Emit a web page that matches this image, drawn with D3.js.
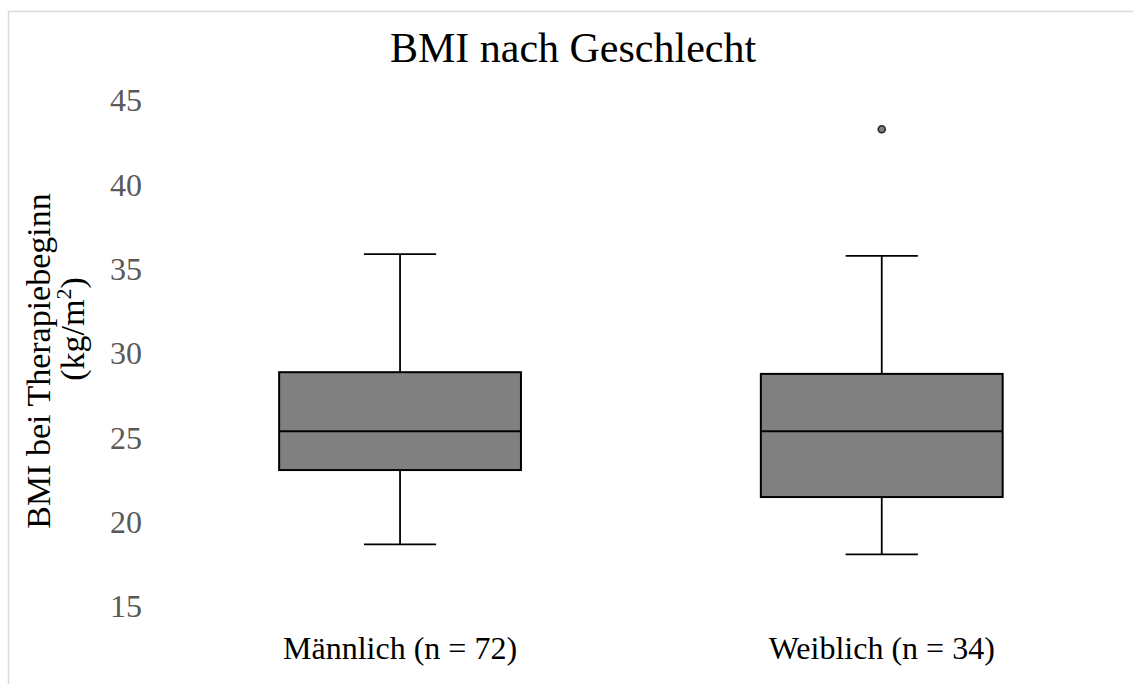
<!DOCTYPE html>
<html>
<head>
<meta charset="utf-8">
<script src="https://cdn.jsdelivr.net/npm/d3@7"></script>
<style>
  body { margin: 0; background: #fff; overflow: hidden; }
  svg { display: block; font-family: "Liberation Serif", "Times New Roman", serif; }
</style>
</head>
<body>
<svg id="chart" width="1133" height="684"></svg>
<script>
'use strict';

// values
const categories = ['Männlich (n = 72)', 'Weiblich (n = 34)'];
const whiskerLow = [18.7, 18.1];
const q1 = [23.1, 21.5];
const median = [25.4, 25.4];
const q3 = [28.9, 28.8];
const whiskerHigh = [35.9, 35.8];
const outliers = [[], [43.3]];
const yTicks = [15, 20, 25, 30, 35, 40, 45];

const boxes = categories.map((c, i) => ({
  key: c,
  lo: whiskerLow[i], q1: q1[i], med: median[i], q3: q3[i], hi: whiskerHigh[i],
  out: outliers[i]
}));

const svg = d3.select('#chart');

// chart frame (only left/top edges fall inside the picture)
svg.append('rect')
  .attr('x', 8.5).attr('y', 11.5)
  .attr('width', 1140).attr('height', 700)
  .attr('fill', 'none')
  .attr('stroke', '#d9d9d9')
  .attr('stroke-width', 1.5);

const y = d3.scaleLinear()
  .domain([15, 45])
  .range([606.7, 100.6]);

const x = d3.scalePoint()
  .domain(categories)
  .range([159.2, 1122.6])
  .padding(0.5);

const step = x.step();
const boxW = step * 0.502;
const capW = step * 0.15;

// y axis: labels only
const yAxis = svg.append('g')
  .attr('transform', 'translate(142,0)')
  .call(d3.axisLeft(y).tickValues(yTicks).tickSize(0).tickPadding(0));

yAxis.select('.domain').remove();
yAxis.attr('font-family', null).attr('font-size', null);
yAxis.selectAll('text')
  .attr('fill', '#595959')
  .style('font-size', '32px')
  .style('font-family', '"Liberation Serif", serif');

// category labels
svg.append('g')
  .selectAll('text')
  .data(categories)
  .join('text')
    .attr('x', d => x(d))
    .attr('y', 659)
    .attr('text-anchor', 'middle')
    .style('font-size', '32px')
    .attr('fill', '#000')
    .text(d => d);

const g = svg.append('g')
  .selectAll('g')
  .data(boxes)
  .join('g')
    .attr('transform', d => 'translate(' + x(d.key) + ',0)');

// whiskers
g.append('line')
  .attr('y1', d => y(d.hi)).attr('y2', d => y(d.q3))
  .attr('stroke', '#000').attr('stroke-width', 1.8);

g.append('line')
  .attr('y1', d => y(d.q1)).attr('y2', d => y(d.lo))
  .attr('stroke', '#000').attr('stroke-width', 1.8);

g.selectAll('line.cap')
  .data(d => [d.hi, d.lo])
  .join('line')
    .attr('class', 'cap')
    .attr('x1', -capW / 2).attr('x2', capW / 2)
    .attr('y1', d => y(d)).attr('y2', d => y(d))
    .attr('stroke', '#000').attr('stroke-width', 1.8);

// box
g.append('rect')
  .attr('x', -boxW / 2)
  .attr('width', boxW)
  .attr('y', d => y(d.q3))
  .attr('height', d => y(d.q1) - y(d.q3))
  .attr('fill', '#808080')
  .attr('stroke', '#000')
  .attr('stroke-width', 2);

g.append('line')
  .attr('x1', -boxW / 2).attr('x2', boxW / 2)
  .attr('y1', d => y(d.med)).attr('y2', d => y(d.med))
  .attr('stroke', '#000').attr('stroke-width', 2);

// outliers
g.selectAll('circle')
  .data(d => d.out)
  .join('circle')
    .attr('cy', d => y(d))
    .attr('r', 3.5)
    .attr('fill', '#808080')
    .attr('stroke', '#262626')
    .attr('stroke-width', 1.6);

// title
svg.append('text')
  .attr('x', 573)
  .attr('y', 62)
  .attr('text-anchor', 'middle')
  .style('font-size', '42px')
  .attr('fill', '#000')
  .text('BMI nach Geschlecht');

// y axis title, two lines
svg.append('text')
  .attr('transform', 'translate(50,361) rotate(-90)')
  .attr('text-anchor', 'middle')
  .style('font-size', '34px')
  .attr('fill', '#000')
  .text('BMI bei Therapiebeginn');

const unit = svg.append('text')
  .attr('transform', 'translate(84,329) rotate(-90)')
  .attr('text-anchor', 'middle')
  .style('font-size', '34px')
  .attr('fill', '#000');
unit.append('tspan').text('(kg/m');
unit.append('tspan')
  .attr('dy', -13)
  .style('font-size', '22px')
  .text('2');
unit.append('tspan')
  .attr('dy', 13)
  .text(')');
</script>
</body>
</html>
